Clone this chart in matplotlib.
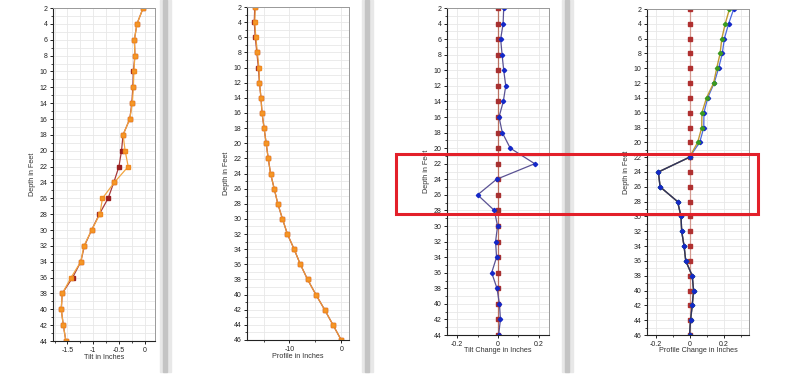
import matplotlib.pyplot as plt
from matplotlib.patches import Rectangle
from matplotlib.ticker import MultipleLocator, FixedLocator

# depths
depth_44 = list(range(2, 45, 2))
depth_46 = list(range(2, 47, 2))

# panel 1 - tilt
tilt_orange = [-0.03, -0.15, -0.2, -0.19, -0.21, -0.22, -0.24, -0.29, -0.42, -0.38, -0.32,
               -0.59, -0.82, -0.87, -1.03, -1.18, -1.24, -1.43, -1.6, -1.62, -1.58, -1.53]
tilt_red = [-0.03, -0.15, -0.2, -0.19, -0.22, -0.23, -0.25, -0.29, -0.42, -0.45, -0.5,
            -0.6, -0.71, -0.88, -1.03, -1.17, -1.24, -1.40, -1.6, -1.62, -1.58, -1.53]

# panel 2 - profile
prof_orange = [-16.6, -16.7, -16.5, -16.2, -15.9, -15.8, -15.5, -15.3, -14.9, -14.5, -14.1, -13.65,
               -12.95, -12.25, -11.35, -10.4, -9.1, -7.9, -6.5, -4.9, -3.2, -1.6, 0]
prof_red = [-16.7, -16.8, -16.6, -16.3, -16.0, -15.8, -15.5, -15.3, -14.9, -14.5, -14.1, -13.65,
            -12.95, -12.25, -11.35, -10.4, -9.1, -7.9, -6.5, -4.9, -3.2, -1.6, 0]

# panel 3 - tilt change
tc_ref = [0.0] * 22
tc_blue = [0.028, 0.025, 0.013, 0.02, 0.028, 0.038, 0.026, 0.005, 0.021, 0.06, 0.18,
           -0.007, -0.1, -0.018, -0.002, -0.012, -0.007, -0.031, -0.005, 0.007, 0.012, 0.003]

# panel 4 - profile change
pc_ref = [0.0] * 23
pc_blue = [0.26, 0.23, 0.205, 0.193, 0.171, 0.145, 0.107, 0.085, 0.084, 0.06, 0.0, -0.183,
           -0.173, -0.07, -0.05, -0.046, -0.032, -0.022, 0.016, 0.024, 0.016, 0.006, 0.0]
pc_green = [0.235, 0.21, 0.19, 0.18, 0.16, 0.142, 0.1, 0.073, 0.072, 0.048, 0.0, -0.183,
            -0.173, -0.07, -0.05, -0.046, -0.032, -0.022, 0.016, 0.024, 0.016, 0.006, 0.0]

plt.rcParams['font.family'] = ['Liberation Sans', 'DejaVu Sans']
plt.rcParams['axes.unicode_minus'] = False
fig = plt.figure(figsize=(8, 3.8), dpi=100)
W, H = 800, 380

# gray separators between panels
for x0 in [160, 362, 562]:
    fig.patches.append(Rectangle((x0 / W, 1 - 372 / H), 11 / W, 372 / H,
                                 transform=fig.transFigure, color='#e8e8e8', zorder=0))
    fig.patches.append(Rectangle(((x0 + 3) / W, 1 - 372 / H), 4 / W, 372 / H,
                                 transform=fig.transFigure, color='#c4c4c4', zorder=0))


def make_ax(left, top, bottom, xlim, ymax, major, minor, xlabel):
    ax = fig.add_axes([left / W, 1 - bottom / H, 102 / W, (bottom - top) / H])
    ax.set_xlim(*xlim)
    ax.set_ylim(ymax, 2)
    ax.xaxis.set_major_locator(FixedLocator(major))
    ax.xaxis.set_minor_locator(FixedLocator(minor))
    ax.yaxis.set_major_locator(MultipleLocator(2))
    ax.yaxis.set_minor_locator(MultipleLocator(1))
    ax.grid(True, which='both', color='#e8e8e8', lw=0.6)
    ax.set_axisbelow(True)
    ax.tick_params(which='major', length=2.5, width=0.7, labelsize=5, pad=1.5, colors='#222')
    ax.tick_params(which='minor', length=1.6, width=0.5)
    for s in ['top', 'right']:
        ax.spines[s].set_color('#999')
        ax.spines[s].set_linewidth(0.7)
    for s in ['left', 'bottom']:
        ax.spines[s].set_color('#222')
        ax.spines[s].set_linewidth(0.8)
    ax.set_xlabel(xlabel, fontsize=5.2, color='#333')
    ax.xaxis.set_label_coords(0.5, -0.038)
    ax.set_ylabel('Depth in Feet', fontsize=5.2, color='#333')
    ax.yaxis.set_label_coords(-0.17, 0.5)
    return ax


ax1 = make_ax(53, 8, 341, (-1.78, 0.2), 44, [-1.5, -1, -0.5, 0],
              [-1.75, -1.25, -0.75, -0.25], 'Tilt in Inches')
ax1.set_xticklabels(['-1.5', '-1', '-0.5', '0'])
ax1.plot(tilt_red, depth_44, color='#a83a3a', lw=0.9, marker='s', ms=2.8,
         mfc='#9a1f1f', mec='#9a1f1f')
ax1.plot(tilt_orange, depth_44, color='#f2a540', lw=0.9, marker='s', ms=2.8,
         mfc='#f59a28', mec='#f08a20')

ax2 = make_ax(247, 7, 340, (-18.2, 1.5), 46, [-10, 0], [-15, -5], 'Profile in Inches')
ax2.plot(prof_red, depth_46, color='#a83a3a', lw=0.9, marker='s', ms=2.8,
         mfc='#9a1f1f', mec='#9a1f1f')
ax2.plot(prof_orange, depth_46, color='#e8963a', lw=0.9, marker='s', ms=2.8,
         mfc='#f59a28', mec='#f08a20')

ax3 = make_ax(447, 8, 335, (-0.25, 0.25), 44, [-0.2, 0, 0.2], [-0.1, 0.1],
              'Tilt Change in Inches')
ax3.set_xticklabels(['-0.2', '0', '0.2'])
ax3.plot(tc_ref, depth_44, color='#b87060', lw=0.9, marker='s', ms=2.6,
         mfc='#a83030', mec='#a83030')
ax3.plot(tc_blue, depth_44, color='#5a5294', lw=0.9, marker='D', ms=2.2,
         mfc='#1428c8', mec='#1428c8')

ax4 = make_ax(647, 9, 335, (-0.25, 0.35), 46, [-0.2, 0, 0.2], [-0.1, 0.1, 0.3],
              'Profile Change in Inches')
ax4.set_xticklabels(['-0.2', '0', '0.2'])
ax4.plot(pc_ref, depth_46, color='#d49a90', lw=0.9, marker='s', ms=2.6,
         mfc='#b03030', mec='#b03030')
ax4.plot(pc_blue, depth_46, color='#4a68e0', lw=0.9, marker='D', ms=2.2,
         mfc='#1428c8', mec='#1428c8')
ax4.plot(pc_green, depth_46, color='#c09a30', lw=1.0, marker='D', ms=2.2,
         mfc='#3a9a20', mec='#3a9a20')
ax4.plot(pc_blue[10:], depth_46[10:], color='#2c3262', lw=1.0, marker='D', ms=2.2,
         mfc='#1428c8', mec='#1428c8')

# red highlight box
fig.patches.append(Rectangle((396 / W, 1 - 214 / H), 362 / W, 60 / H, transform=fig.transFigure,
                             fill=False, edgecolor='#e3202a', lw=2.2, zorder=10))

fig.savefig('out.png', dpi=100)
